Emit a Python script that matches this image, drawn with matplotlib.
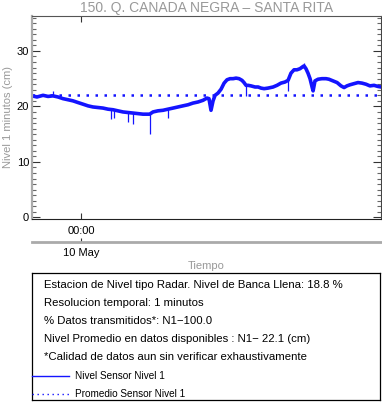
import matplotlib.pyplot as plt
import matplotlib.dates as mdates
from datetime import datetime, timedelta

plt.rcParams['font.family'] = ['Liberation Sans', 'DejaVu Sans']

title = "150. Q. CANADA NEGRA – SANTA RITA"
start = datetime(2023, 5, 9, 20, 38)

# hours since start, level in cm
hours = [0.00, 0.34, 0.76, 1.10, 1.44, 1.79, 2.13, 2.48, 2.82, 3.16,
         3.51, 3.85, 4.19, 4.54, 4.88, 5.23, 5.57, 5.91, 6.26, 6.60,
         6.95, 7.29, 7.63, 8.09, 8.32, 8.66, 9.01, 9.35, 9.70, 10.04,
         10.38, 10.73, 11.07, 11.42, 11.76, 12.03, 12.17, 12.31, 12.45,
         12.59, 12.79, 13.00, 13.21, 13.41, 13.62, 13.83, 14.03, 14.24,
         14.44, 14.58, 14.72, 14.86, 15.06, 15.34, 15.55, 15.75, 15.96,
         16.23, 16.58, 16.85, 17.12, 17.40, 17.61, 17.81, 18.02, 18.22,
         18.43, 18.64, 18.71, 18.84, 18.98, 19.12, 19.26, 19.33, 19.46,
         19.67, 19.94, 20.22, 20.42, 20.70, 20.98, 21.25, 21.46, 21.66,
         21.87, 22.14, 22.42, 22.69, 22.97, 23.24, 23.52, 23.79, 24.00]
nivel = [21.9, 21.7, 22.0, 21.8, 21.9, 21.7, 21.4, 21.2, 21.0, 20.7,
         20.4, 20.1, 19.9, 19.8, 19.7, 19.5, 19.4, 19.2, 19.0, 18.9,
         18.8, 18.7, 18.6, 18.6, 19.0, 19.2, 19.3, 19.5, 19.7, 19.9,
         20.1, 20.3, 20.6, 20.8, 21.1, 21.5, 21.4, 19.3, 21.0,
         22.0, 22.4, 23.1, 24.2, 24.8, 25.0, 25.0, 25.1, 25.0,
         24.7, 24.3, 23.8, 23.8, 23.7, 23.5, 23.5, 23.3, 23.2,
         23.3, 23.5, 23.8, 24.2, 24.4, 24.7, 26.0, 26.6, 26.6,
         26.8, 27.2, 27.3, 26.8, 26.0, 25.0, 23.5, 22.8, 24.6,
         24.9, 25.0, 25.0, 24.9, 24.6, 24.3, 23.7, 23.4, 23.7,
         23.9, 24.1, 24.3, 24.2, 24.0, 23.7, 23.8, 23.6, 23.5]

# short single-sample spikes: hour, level before spike, spike tip
spike_hours = [1.44, 5.44, 5.66, 6.60, 6.95, 8.09, 9.35, 14.72, 17.61, 18.71]
spike_base = [21.9, 19.5, 19.4, 18.9, 18.8, 18.6, 19.5, 23.8, 24.7, 27.3]
spike_tip = [22.8, 17.7, 17.9, 17.1, 16.8, 15.0, 18.0, 21.9, 22.8, 27.8]

promedio = 22.1

info_lines = [
    "Estacion de Nivel tipo Radar. Nivel de Banca Llena: 18.8 %",
    "Resolucion temporal: 1 minutos",
    "% Datos transmitidos*: N1\u2212100.0",
    "Nivel Promedio en datos disponibles : N1\u2212 22.1 (cm)",
    "*Calidad de datos aun sin verificar exhaustivamente",
]
legend_labels = ["Nivel Sensor Nivel 1", "Promedio Sensor Nivel 1"]

times = [start + timedelta(hours=h) for h in hours]
spike_times = [start + timedelta(hours=h) for h in spike_hours]
midnight = datetime(2023, 5, 10, 0, 0)

blue = '#1414ff'

fig = plt.figure(figsize=(3.82, 4.04), dpi=100)
ax = fig.add_axes([32 / 382, 1 - 219 / 404, 349 / 382, 203 / 404])

line, = ax.plot(times, nivel, color=blue, lw=2.6)
ax.vlines(spike_times, spike_base, spike_tip, color=blue, lw=0.9)
mean_line = ax.axhline(promedio, color=blue, lw=1.8, linestyle=(0, (1, 2.6)))

ax.set_xlim(times[0], times[-1])
ax.set_ylim(-0.3, 36.3)
ax.set_yticks([0, 10, 20, 30])
ax.set_yticks(range(0, 37), minor=True)
ax.set_xticks([mdates.date2num(midnight)])
ax.xaxis.set_major_formatter(mdates.DateFormatter('%H:%M'))
ax.tick_params(axis='both', which='major', direction='in', length=6, width=0.8,
               labelsize=8, pad=2, top=True, right=True, colors='#333333',
               labelcolor='black')
ax.tick_params(axis='y', which='minor', direction='in', length=3, width=0.8,
               right=True, colors='#666666')
ax.tick_params(axis='x', which='major', length=4, pad=5)

ax.spines['left'].set_color('#aaaaaa')
ax.spines['left'].set_linewidth(1.6)
ax.spines['bottom'].set_color('#222222')
ax.spines['top'].set_color('#555555')
ax.spines['right'].set_color('#444444')

ax.set_title(title, color='#999999', fontsize=10, pad=3)
ax.set_ylabel("Nivel 1 minutos (cm)", color='#999999', fontsize=8)
ax.yaxis.set_label_coords(-0.055, 0.5)
ax.set_xlabel("Tiempo", color='#999999', fontsize=8)
ax.xaxis.set_label_coords(0.5, -0.205)

sec = ax.secondary_xaxis(-22.5 / 203)
sec.set_xticks([mdates.date2num(midnight)])
sec.xaxis.set_major_formatter(mdates.DateFormatter('%d %b'))
sec.spines['bottom'].set_color('#aaaaaa')
sec.spines['bottom'].set_linewidth(2)
sec.tick_params(axis='x', direction='in', length=3, width=0.8, colors='#333333',
                labelcolor='black', labelsize=8, pad=5)

box = fig.add_axes([32 / 382, 1 - 400 / 404, 348 / 382, 127 / 404])
box.set_xticks([])
box.set_yticks([])
for s in box.spines.values():
    s.set_color('black')
    s.set_linewidth(0.9)
for i, txt in enumerate(info_lines):
    box.text(0.035, 1 - (12 + 18 * i) / 127, txt, transform=box.transAxes,
             fontsize=8.2, va='center', ha='left')
box.legend([line, mean_line], legend_labels, loc='upper left',
           bbox_to_anchor=(-0.012, 1 - 94 / 127), frameon=False, fontsize=7.2,
           handlelength=3.7, handletextpad=0.6, labelspacing=0.8,
           borderaxespad=0)
leg_lines = box.get_legend().get_lines()
leg_lines[0].set_linewidth(1.0)
leg_lines[1].set_linewidth(1.0)

fig.savefig("out.png", dpi=100)
plt.close(fig)
